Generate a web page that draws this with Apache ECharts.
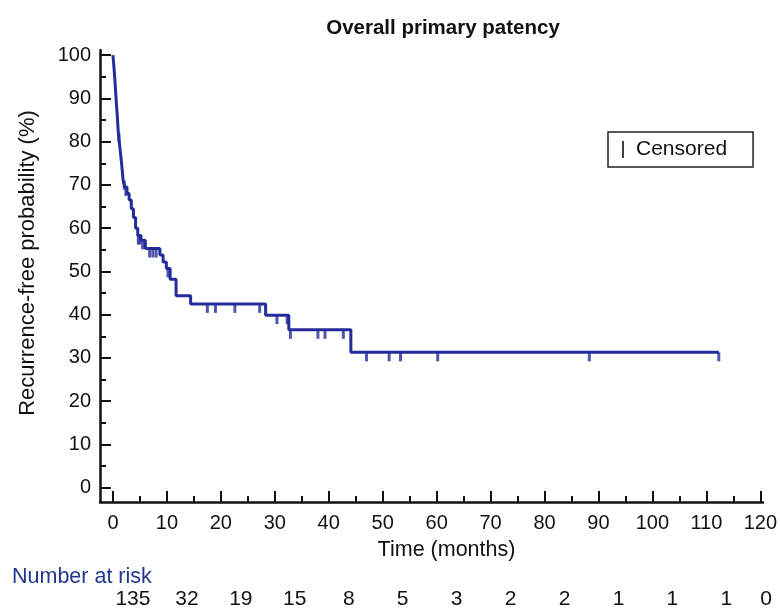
<!DOCTYPE html>
<html>
<head>
<meta charset="utf-8">
<script src="https://cdn.jsdelivr.net/npm/echarts@6/dist/echarts.min.js"></script>
<style>html,body{margin:0;padding:0;background:#fff}#c{width:780px;height:612px}</style>
</head>
<body>
<div id="c"></div>
<script>
// Kaplan-Meier step points (time in months, survival %)
const kmTimes = [0, 0.2, 0.4, 0.6, 0.8, 1.0, 1.3, 1.6, 1.9, 2.2, 2.6, 3.0, 3.4, 3.8, 4.2, 4.6, 5.2, 6.0, 8.7, 9.3, 9.9, 10.6, 11.7, 14.4, 28.3, 32.6, 44.1, 112.3];
const kmSurv  = [100, 97, 93.5, 89.5, 86, 82, 78.5, 75, 71, 69.5, 68, 66.5, 64.5, 62.5, 60, 58.3, 57.2, 55.3, 53.8, 52.2, 50.7, 48.2, 44.4, 42.5, 39.9, 36.5, 31.3, 31.3];
// Censored observations
const censorTimes  = [1.1, 2.1, 2.4, 4.7, 5.0, 5.5, 6.8, 7.4, 8.0, 10.2, 17.5, 19.0, 22.6, 27.2, 30.4, 32.3, 32.9, 38.0, 39.3, 42.7, 47.0, 51.2, 53.3, 60.2, 88.3, 112.3];
const censorValues = [82, 71, 69.5, 58.3, 58.3, 57.2, 55.3, 55.3, 55.3, 50.7, 42.5, 42.5, 42.5, 42.5, 39.9, 39.9, 36.5, 36.5, 36.5, 36.5, 31.3, 31.3, 31.3, 31.3, 31.3, 31.3];
// Axis ticks
const xMajorTicks = [0, 10, 20, 30, 40, 50, 60, 70, 80, 90, 100, 110, 120];
const xMinorTicks = [5, 15, 25, 35, 45, 55, 65, 75, 85, 95, 105, 115];
const yMajorTicks = [0, 10, 20, 30, 40, 50, 60, 70, 80, 90, 100];
const yMinorTicks = [5, 15, 25, 35, 45, 55, 65, 75, 85, 95];
// Number at risk
const riskTimes = [0, 10, 20, 30, 40, 50, 60, 70, 80, 90, 100, 110, 120];
const riskCounts = [135, 32, 19, 15, 8, 5, 3, 2, 2, 1, 1, 1, 0];

const FONT = 'Liberation Sans, Arial, sans-serif';
const CURVE = '#232c98';
const XMIN = -2.4, XMAX = 120.5, YMIN = -3.3, YMAX = 101.2;

const chart = echarts.init(document.getElementById('c'), null, {renderer: 'canvas'});

const axisBaseX = (ticks, len, withLabel) => ({
  type: 'value', min: XMIN, max: XMAX, position: 'bottom', gridIndex: 0,
  axisLine: {show: withLabel, onZero: false, lineStyle: {color: '#111', width: 2.5}},
  axisTick: {show: true, inside: true, length: len, customValues: ticks, lineStyle: {color: '#111', width: 2}},
  axisLabel: {show: withLabel, customValues: ticks, margin: 11, fontSize: 20, color: '#111', fontFamily: FONT},
  splitLine: {show: false}
});
const axisBaseY = (ticks, len, withLabel) => ({
  type: 'value', min: YMIN, max: YMAX, position: 'left', gridIndex: 0,
  axisLine: {show: withLabel, onZero: false, lineStyle: {color: '#111', width: 2.5}},
  axisTick: {show: true, inside: true, length: len, customValues: ticks, lineStyle: {color: '#111', width: 2}},
  axisLabel: {show: withLabel, customValues: ticks, margin: 9, fontSize: 20, color: '#111', fontFamily: FONT},
  splitLine: {show: false}
});

const xMain = axisBaseX(xMajorTicks, 11, true);
xMain.name = 'Time (months)';
xMain.nameLocation = 'middle';
xMain.nameGap = 37;
xMain.nameTextStyle = {fontSize: 21.5, color: '#111', fontFamily: FONT, padding: [0, 0, 0, 30]};
const yMain = axisBaseY(yMajorTicks, 11, true);
yMain.name = 'Recurrence-free probability (%)';
yMain.nameLocation = 'middle';
yMain.nameGap = 61;
yMain.nameTextStyle = {fontSize: 22, color: '#111', fontFamily: FONT, padding: [0, 0, 0, 26]};

const option = {
  animation: false,
  backgroundColor: '#fff',
  textStyle: {fontFamily: FONT},
  title: {
    text: 'Overall primary patency', left: 438, top: 13, textAlign: 'center',
    textStyle: {fontSize: 20.5, fontWeight: 'bold', color: '#111', fontFamily: FONT}
  },
  grid: {left: 100, right: 12, top: 50, bottom: 110, containLabel: false},
  legend: {
    left: 608, top: 132, padding: [7, 26, 7, 14],
    borderColor: '#222', borderWidth: 1.5, borderRadius: 0,
    itemWidth: 2, itemHeight: 17, icon: 'rect', selectedMode: false,
    data: [{name: 'Censored', itemStyle: {color: '#111'}}],
    textStyle: {fontSize: 21, color: '#111', fontFamily: FONT, padding: [0, 0, 0, 7]}
  },
  xAxis: [xMain, axisBaseX(xMinorTicks, 6, false)],
  yAxis: [yMain, axisBaseY(yMinorTicks, 6, false)],
  series: [
    {
      name: 'KM', type: 'line', step: 'end', showSymbol: false, xAxisIndex: 0, yAxisIndex: 0,
      data: kmTimes.map((t, i) => [t, kmSurv[i]]),
      lineStyle: {color: CURVE, width: 3}, itemStyle: {color: CURVE}, z: 3
    },
    {
      name: 'Censored', type: 'scatter', xAxisIndex: 0, yAxisIndex: 0,
      symbol: 'rect', symbolSize: [3, 9], symbolOffset: [0, 4.5],
      data: censorTimes.map((t, i) => [t, censorValues[i]]),
      itemStyle: {color: CURVE}, z: 4
    }
  ]
};
chart.setOption(option);

// Number at risk row, positioned through the x axis scale
const graphics = [{
  type: 'text', left: 12, top: 566,
  style: {text: 'Number at risk', fontSize: 21.5, fill: '#24378f', fontFamily: FONT}
}];
riskTimes.forEach((t, i) => {
  let px = chart.convertToPixel({xAxisIndex: 0}, t) + 20;
  if (px > 766) px = 766;
  graphics.push({
    type: 'text', x: px, y: 599,
    style: {text: String(riskCounts[i]), fontSize: 21, fill: '#111', fontFamily: FONT, align: 'center', verticalAlign: 'middle'}
  });
});
chart.setOption({graphic: graphics});
</script>
</body>
</html>
